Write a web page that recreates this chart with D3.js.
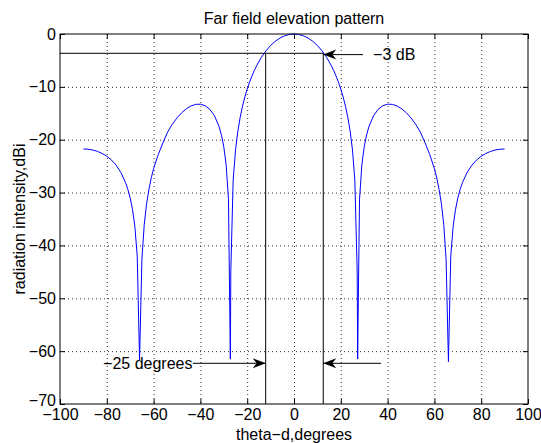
<!DOCTYPE html>
<html>
<head>
<meta charset="utf-8">
<script src="https://cdn.jsdelivr.net/npm/d3@7"></script>
<style>
  body { margin: 0; background: #fff; }
  text { font-family: "Liberation Sans", Arial, sans-serif; }
</style>
</head>
<body>
<svg id="chart"></svg>
<script>
// far field pattern
const thetaDeg = [-90,-88,-86,-84,-82,-80,-78,-76,-74,-72,-71,-70,-69,-68,-67,-66,-65,-64,-63,-62,-61,-60,-58,-56,-54,-52,-50,-48,-46,-44,-42,-40,-38,-36,-34,-32,-31,-30,-29,-28,-27.2,-27,-26,-25,-24,-23,-22,-21,-20,-19,-18,-17,-16,-14,-12,-10,-8,-6,-4,-2,
  0,2,4,6,8,10,12,14,16,17,18,19,20,21,22,23,24,25,26,27,27.2,28,29,30,31,32,34,36,38,40,42,44,46,48,50,52,54,56,58,60,61,62,63,64,65,66,67,68,69,70,71,72,74,76,78,80,82,84,86,88,90];
const intensityDb = [-21.75,-21.80,-21.95,-22.21,-22.59,-23.12,-23.85,-24.83,-26.18,-28.10,-29.40,-31.05,-33.25,-36.45,-42.02,-61.7,-42.68,-36.05,-32.11,-29.43,-27.21,-25.47,-22.80,-20.58,-18.56,-17.08,-15.87,-14.89,-14.14,-13.61,-13.31,-13.28,-13.56,-14.24,-15.46,-17.55,-19.14,-21.36,-24.76,-31.25,-61.5,-44.80,-27.64,-21.97,-18.40,-15.76,-13.66,-11.91,-10.42,-9.12,-7.97,-6.94,-6.03,-4.46,-3.20,-2.17,-1.37,-0.76,-0.34,-0.08,
  0,-0.08,-0.34,-0.76,-1.37,-2.17,-3.20,-4.46,-6.03,-6.94,-7.97,-9.12,-10.42,-11.91,-13.66,-15.76,-18.40,-21.97,-27.64,-44.80,-61.5,-31.25,-24.76,-21.36,-19.14,-17.55,-15.46,-14.24,-13.56,-13.28,-13.31,-13.61,-14.14,-14.89,-15.87,-17.08,-18.56,-20.58,-22.80,-25.47,-27.21,-29.43,-32.11,-36.05,-42.68,-62.0,-42.02,-36.45,-33.25,-31.05,-29.40,-28.10,-26.18,-24.83,-23.85,-23.12,-22.59,-22.21,-21.95,-21.80,-21.75];

const xTicks = [-100,-80,-60,-40,-20,0,20,40,60,80,100];
const yTicks = [-70,-60,-50,-40,-30,-20,-10,0];

// -3 dB markers: level and beam edges
const halfPowerDb = -3.65;
const beamEdges = [-12.1, 12.5];

// annotation arrows [x1, y1, x2(tip), y2] and labels
const arrows = [
  [29.5, -3.9, 12.5, -3.9],
  [-43.2, -62.3, -12.1, -62.3],
  [37.2, -62.3, 12.5, -62.3]
];
const notes = [
  { text: "\u22123 dB", x: 33.8, y: -3.9 },
  { text: "\u221225 degrees", x: -81.6, y: -62.3 }
];

const W = 541, H = 443;
const margin = { top: 34, right: 13, bottom: 39, left: 60 };
const width = W - margin.left - margin.right;
const height = H - margin.top - margin.bottom;

const svg = d3.select("#chart").attr("width", W).attr("height", H);
const g = svg.append("g").attr("transform", `translate(${margin.left},${margin.top})`);

const x = d3.scaleLinear().domain([-100, 100]).range([0, width]);
const y = d3.scaleLinear().domain([-70, 0]).range([height, 0]);

// dotted grid
g.append("g").selectAll("line").data(xTicks.slice(1, -1)).join("line")
  .attr("x1", d => x(d) + 0.5).attr("x2", d => x(d) + 0.5)
  .attr("y1", 0).attr("y2", height)
  .attr("stroke", "#333").attr("stroke-dasharray", "1,3");
g.append("g").selectAll("line").data(yTicks.slice(1, -1)).join("line")
  .attr("y1", d => y(d) + 0.5).attr("y2", d => y(d) + 0.5)
  .attr("x1", 0).attr("x2", width)
  .attr("stroke", "#333").attr("stroke-dasharray", "1,3");

const fmt = d3.format("");
const styleAxis = sel => {
  sel.select(".domain").remove();
  sel.selectAll("text").attr("font-size", 16).attr("fill", "#000")
    .style("font-family", "'Liberation Sans', Arial, sans-serif");
  sel.selectAll("line").attr("stroke", "#000");
};

g.append("g").attr("transform", `translate(0,${height})`)
  .call(d3.axisBottom(x).tickValues(xTicks).tickFormat(fmt).tickSizeInner(-5).tickSizeOuter(0).tickPadding(5))
  .call(styleAxis);
g.append("g")
  .call(d3.axisTop(x).tickValues(xTicks).tickFormat("").tickSizeInner(-5).tickSizeOuter(0))
  .call(styleAxis);
g.append("g")
  .call(d3.axisLeft(y).tickValues(yTicks).tickFormat(fmt).tickSizeInner(-5).tickSizeOuter(0).tickPadding(4))
  .call(styleAxis);
g.append("g").attr("transform", `translate(${width},0)`)
  .call(d3.axisRight(y).tickValues(yTicks).tickFormat("").tickSizeInner(-5).tickSizeOuter(0))
  .call(styleAxis);

// the -70 label sits a little above its tick, as in the reference
g.selectAll("text").filter(function () { return this.textContent === "\u221270"; })
  .attr("dy", "0.1em");

// pattern curve
const pts = thetaDeg.map((t, i) => [t, intensityDb[i]]);
g.append("path")
  .datum(pts)
  .attr("fill", "none")
  .attr("stroke", "#0000ff")
  .attr("stroke-width", 1)
  .attr("d", d3.line().x(d => x(d[0])).y(d => y(d[1])));

// -3 dB level and beam edges
g.append("line")
  .attr("x1", x(-100)).attr("x2", x(beamEdges[1]))
  .attr("y1", y(halfPowerDb)).attr("y2", y(halfPowerDb))
  .attr("stroke", "#000");
g.selectAll(".edge").data(beamEdges).join("line")
  .attr("class", "edge")
  .attr("x1", d => x(d)).attr("x2", d => x(d))
  .attr("y1", y(halfPowerDb)).attr("y2", y(-70))
  .attr("stroke", "#000");

// arrowheads
svg.append("defs").append("marker")
  .attr("id", "head")
  .attr("viewBox", "-14 -6 15 12")
  .attr("refX", 0).attr("refY", 0)
  .attr("markerWidth", 15).attr("markerHeight", 12)
  .attr("markerUnits", "userSpaceOnUse")
  .attr("orient", "auto")
  .append("path")
  .attr("d", "M0,0L-13,-5L-9,0L-13,5Z")
  .attr("fill", "#000");

g.selectAll(".arrow").data(arrows).join("line")
  .attr("class", "arrow")
  .attr("x1", d => x(d[0])).attr("y1", d => y(d[1]))
  .attr("x2", d => x(d[2])).attr("y2", d => y(d[3]))
  .attr("stroke", "#000")
  .attr("marker-end", "url(#head)");

g.selectAll(".note").data(notes).join("text")
  .attr("class", "note")
  .attr("x", d => x(d.x)).attr("y", d => y(d.y))
  .attr("dy", "0.35em")
  .attr("font-size", 16)
  .text(d => d.text);

// box
g.append("rect")
  .attr("width", width).attr("height", height)
  .attr("fill", "none").attr("stroke", "#000");

// titles
svg.append("text")
  .attr("x", margin.left + width / 2).attr("y", 24)
  .attr("text-anchor", "middle").attr("font-size", 16)
  .text("Far field elevation pattern");
svg.append("text")
  .attr("x", margin.left + width / 2).attr("y", 440)
  .attr("text-anchor", "middle").attr("font-size", 16)
  .text("theta\u2212d,degrees");
svg.append("text")
  .attr("transform", `translate(25,${margin.top + height / 2}) rotate(-90)`)
  .attr("text-anchor", "middle").attr("font-size", 16)
  .text("radiation intensity,dBi");
</script>
</body>
</html>
